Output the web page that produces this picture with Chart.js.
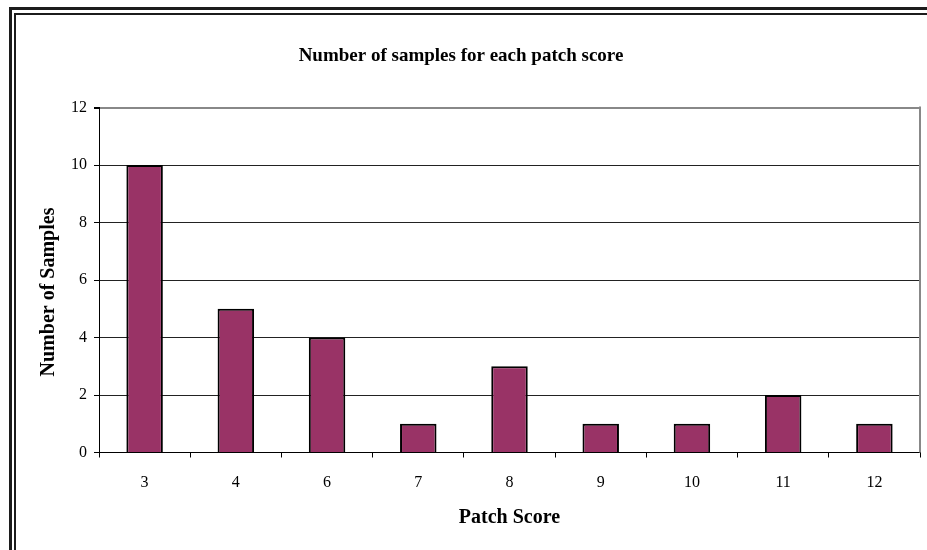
<!DOCTYPE html>
<html>
<head>
<meta charset="utf-8">
<script src="https://cdn.jsdelivr.net/npm/chart.js@4.4.0/dist/chart.umd.min.js"></script>
<style>
  body { margin: 0; background: #fff; }
  #wrap { position: relative; width: 927px; height: 550px; overflow: hidden; background: #fff; }
  #chart { position: absolute; left: 0; top: 0; }
  .frame { position: absolute; pointer-events: none; }
  #outer { left: 9px; top: 7px; right: -10px; bottom: -10px; border-left: 3px solid #1c1c1c; border-top: 3px solid #1c1c1c; }
  #inner { left: 14px; top: 13px; right: -10px; bottom: -10px; border-left: 2px solid #1c1c1c; border-top: 2px solid #1c1c1c; }
</style>
</head>
<body>
<div id="wrap">
  <canvas id="chart" width="927" height="550"></canvas>
  <div class="frame" id="outer"></div>
  <div class="frame" id="inner"></div>
</div>
<script>
const patchScores = ["3", "4", "6", "7", "8", "9", "10", "11", "12"];
const sampleCounts = [10, 5, 4, 1, 3, 1, 1, 2, 1];
const yTicks = [0, 2, 4, 6, 8, 10, 12];

const serif = "'Liberation Serif', 'Times New Roman', serif";

// y-axis title drawn by hand so it can sit a bit lower than the scale centre
const yTitlePlugin = {
  id: "yTitle",
  afterDraw(chart) {
    const { ctx, chartArea } = chart;
    ctx.save();
    // plot area border on the right
    ctx.strokeStyle = "#888";
    ctx.lineWidth = 2;
    ctx.beginPath();
    ctx.moveTo(chartArea.right, chartArea.top - 1);
    ctx.lineTo(chartArea.right, chartArea.bottom);
    ctx.stroke();

    ctx.translate(49, 292);
    ctx.rotate(-Math.PI / 2);
    ctx.font = `bold 20px ${serif}`;
    ctx.fillStyle = "#000";
    ctx.textAlign = "center";
    ctx.textBaseline = "middle";
    ctx.fillText("Number of Samples", 0, 0);
    ctx.restore();
  },
};

new Chart(document.getElementById("chart"), {
  type: "bar",
  data: {
    labels: patchScores,
    datasets: [
      {
        label: "Number of Samples",
        data: sampleCounts,
        backgroundColor: "#993366",
        borderColor: "#000",
        borderWidth: 2,
        barPercentage: 0.4,
        categoryPercentage: 1,
      },
    ],
  },
  options: {
    responsive: false,
    animation: false,
    layout: { padding: { left: 2, right: 7, top: 0, bottom: 18 } },
    plugins: {
      legend: { display: false },
      tooltip: { enabled: false },
      title: {
        display: true,
        text: "Number of samples for each patch score",
        color: "#000",
        font: { family: serif, size: 19, weight: "bold" },
        padding: { top: 44.5, bottom: 40.2 },
      },
    },
    scales: {
      x: {
        afterFit: (scale) => { scale.height = 79.5; },
        grid: {
          offset: true,
          drawOnChartArea: false,
          tickLength: 5,
          color: "#000",
        },
        border: { display: true, color: "#000", width: 1 },
        ticks: {
          color: "#000",
          padding: 16,
          font: { family: serif, size: 16 },
        },
        title: {
          display: true,
          text: "Patch Score",
          color: "#000",
          font: { family: serif, size: 20, weight: "bold" },
          padding: { top: 0, bottom: 2 },
        },
      },
      y: {
        min: 0,
        max: 12,
        afterFit: (scale) => { scale.width = 97; },
        afterBuildTicks: (scale) => {
          scale.ticks = yTicks.map((v) => ({ value: v }));
        },
        grid: {
          tickLength: 5,
          color: (c) => (c.tick && c.tick.value === 12 ? "#888" : "#222"),
          lineWidth: (c) => (c.tick && c.tick.value === 12 ? 2 : 1),
          tickColor: "#000",
        },
        border: { display: true, color: "#000", width: 1 },
        ticks: {
          color: "#000",
          padding: 7,
          font: { family: serif, size: 16 },
        },
        title: { display: false },
      },
    },
  },
  plugins: [yTitlePlugin],
});
</script>
</body>
</html>
